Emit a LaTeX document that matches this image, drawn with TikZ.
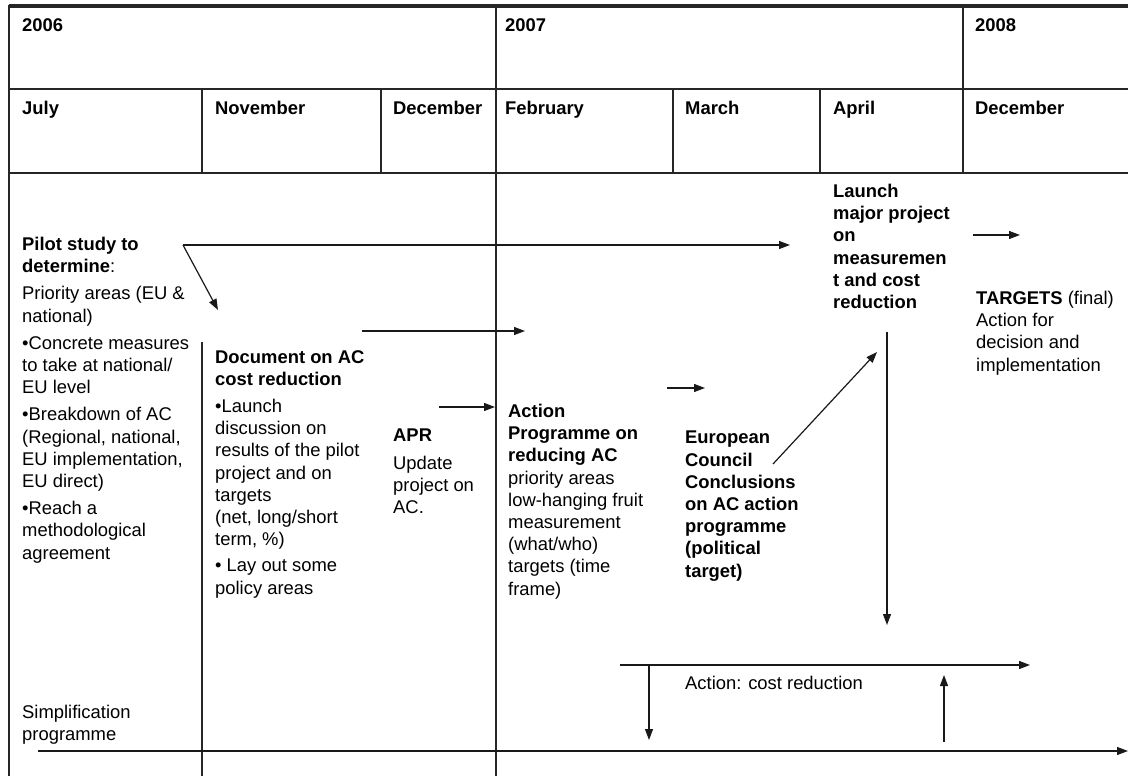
\documentclass[tikz,border=0pt]{standalone}
\usepackage{fontspec}
\setmainfont{Liberation Sans}
\usetikzlibrary{arrows.meta}

\begin{document}
\begin{tikzpicture}[x=1pt,y=-1pt,
  grid/.style={line width=1.2pt,black!85},
  head/.style={anchor=north west,inner sep=0pt,font=\fontsize{18.4}{22.2}\selectfont\bfseries,execute at begin node=\strut},
  txt/.style={anchor=north west,inner sep=0pt,align=left,font=\fontsize{18.4}{22.2}\selectfont,execute at begin node=\strut},
  flow/.style={line width=1.2pt,black!90,-{Triangle[length=11pt,width=8pt]}}]
\useasboundingbox (0,0) rectangle (1128,776);
\fill[white] (0,0) rectangle (1128,776);

\draw[line width=3.5pt,black!85] (9,6) -- (1128,6);
\draw[grid] (9,5) -- (9,776);
\draw[grid] (9,89) -- (1128,89) (9,173) -- (1128,173);
\draw[grid] (496,6) -- (496,776) (963,6) -- (963,173);
\foreach \x in {202,381,673,820} \draw[grid] (\x,89) -- (\x,173);
\draw[grid] (202,342) -- (202,776);

\node[head] (y2006) at (22,16) {2006};
\node[head] (y2007) at (505,16) {2007};
\node[head] (y2008) at (975,16) {2008};
\foreach \x/\m/\n in {22/July/jul,215/November/nov,393/December/dec,505/February/feb,685/March/mar,833/April/apr,975/December/decb}
  \node[head] (\n) at (\x,99) {\m};

\node[txt] (pilot) at (22,237) {\textbf{Pilot study to}\\\textbf{determine}:\\[5pt]Priority areas (EU \&\\national)\\[5pt]•Concrete measures\\to take at national/\\EU level\\[5pt]•Breakdown of AC\\(Regional, national,\\EU implementation,\\EU direct)\\[5pt]•Reach a\\methodological\\agreement};
\node[txt] (document) at (215,350) {\textbf{Document on AC}\\\textbf{cost reduction}\\[5pt]•Launch\\discussion on\\results of the pilot\\project and on\\targets\\(net, long/short\\term, \%)\\[4pt]• Lay out some\\policy areas};
\node[txt] (update) at (393,429) {\textbf{APR}\\[5pt]Update\\project on\\AC.};
\node[txt] (programme) at (508,404) {\textbf{Action}\\\textbf{Programme on}\\\textbf{reducing AC}\\priority areas\\low-hanging fruit\\measurement\\(what/who)\\targets (time\\frame)};
\node[txt,font=\fontsize{18.4}{22.2}\selectfont\bfseries] (council) at (685,431) {European\\Council\\Conclusions\\on AC action\\programme\\(political\\target)};
\node[txt,font=\fontsize{18.4}{22.2}\selectfont\bfseries] (launch) at (833,184) {Launch\\major project\\on\\measuremen\\t and cost\\reduction};
\node[txt] (targets) at (976,291) {\textbf{TARGETS} (final)\\Action for\\decision and\\implementation};
\node[txt] (simpl) at (22,705) {Simplification\\programme};
\node[txt] (costred) at (685,674) {Action: cost reduction};

\coordinate (fork) at (183,245);
\coordinate (launchin) at (790,245);
\coordinate (docin) at (218,310);
\coordinate (finalout) at (973,235);
\coordinate (finalin) at (1020,235);
\coordinate (docout) at (362,331);
\coordinate (progin) at (525,331);
\coordinate (aprout) at (439,407);
\coordinate (aprin) at (495,407);
\coordinate (progout) at (667,388);
\coordinate (councilin) at (705,388);
\coordinate (councilout) at (773,464);
\coordinate (launchup) at (877,352);
\coordinate (launchout) at (887,332);
\coordinate (actiontop) at (887,625);
\coordinate (actionstart) at (620,665);
\coordinate (actionend) at (1030,665);
\coordinate (splitoff) at (649,665);
\coordinate (splitin) at (649,740);
\coordinate (feedout) at (944,742);
\coordinate (feedin) at (944,675);
\coordinate (simplstart) at (38,751);
\coordinate (simplend) at (1128,751);

\draw[flow] (fork) -- (launchin);
\draw[flow] (fork) -- (docin);
\draw[flow] (finalout) -- (finalin);
\draw[flow] (docout) -- (progin);
\draw[flow] (aprout) -- (aprin);
\draw[flow] (progout) -- (councilin);
\draw[flow] (councilout) -- (launchup);
\draw[flow] (launchout) -- (actiontop);
\draw[flow] (actionstart) -- (actionend);
\draw[flow] (splitoff) -- (splitin);
\draw[flow] (feedout) -- (feedin);
\draw[flow] (simplstart) -- (simplend);
\end{tikzpicture}
\end{document}
